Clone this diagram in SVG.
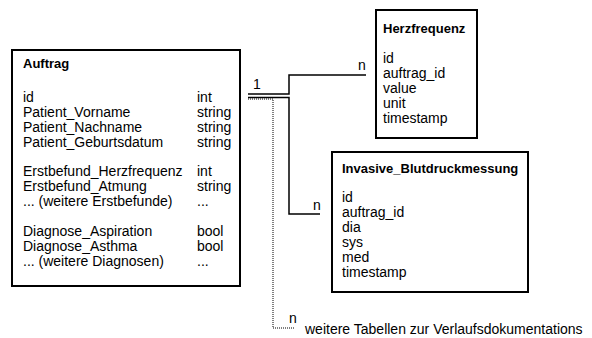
<svg xmlns="http://www.w3.org/2000/svg" width="592" height="338" viewBox="0 0 592 338">
<style>
.box{fill:#fff;stroke:#000;stroke-width:2}
text{font-family:"Liberation Sans",Arial,sans-serif;font-size:14px;fill:#000}
.t{font-weight:bold;font-size:13px}
.c{fill:none;stroke:#000;stroke-width:1.5}
.d{fill:none;stroke:#000;stroke-width:1;stroke-dasharray:1,1}
</style>
<rect width="592" height="338" fill="#fff"/>
<g id="connectors">
<polyline class="c" points="248,94 289,94 289,75 366,75"/>
<polyline class="c" points="248,97.5 289,97.5 289,214 320,214"/>
<polyline class="d" points="248,99 273,99 273,328 295,328"/>
<text x="253" y="89">1</text>
<text x="358" y="70">n</text>
<text x="313" y="210">n</text>
<text x="289" y="323">n</text>
<text x="305" y="334">weitere Tabellen zur Verlaufsdokumentations</text>
</g>
<g id="auftrag">
<rect class="box" x="12" y="50" width="228" height="236"/>
<text class="t" x="23" y="68">Auftrag</text>
<text x="23" y="102">id</text><text x="197" y="102">int</text>
<text x="23" y="117">Patient_Vorname</text><text x="197" y="117">string</text>
<text x="23" y="132">Patient_Nachname</text><text x="197" y="132">string</text>
<text x="23" y="147">Patient_Geburtsdatum</text><text x="197" y="147">string</text>
<text x="23" y="176">Erstbefund_Herzfrequenz</text><text x="197" y="176">int</text>
<text x="23" y="191">Erstbefund_Atmung</text><text x="197" y="191">string</text>
<text x="23" y="206">... (weitere Erstbefunde)</text><text x="197" y="206">...</text>
<text x="23" y="236">Diagnose_Aspiration</text><text x="197" y="236">bool</text>
<text x="23" y="251">Diagnose_Asthma</text><text x="197" y="251">bool</text>
<text x="23" y="266">... (weitere Diagnosen)</text><text x="197" y="266">...</text>
</g>
<g id="herzfrequenz">
<rect class="box" x="376" y="10" width="101" height="128"/>
<text class="t" x="383" y="33">Herzfrequenz</text>
<text x="383" y="63">id</text>
<text x="383" y="78">auftrag_id</text>
<text x="383" y="93">value</text>
<text x="383" y="108">unit</text>
<text x="383" y="123">timestamp</text>
</g>
<g id="invasive">
<rect class="box" x="332" y="152" width="196" height="140"/>
<text class="t" x="342" y="173">Invasive_Blutdruckmessung</text>
<text x="342" y="202">id</text>
<text x="342" y="217">auftrag_id</text>
<text x="342" y="232">dia</text>
<text x="342" y="247">sys</text>
<text x="342" y="262">med</text>
<text x="342" y="277">timestamp</text>
</g>
</svg>
